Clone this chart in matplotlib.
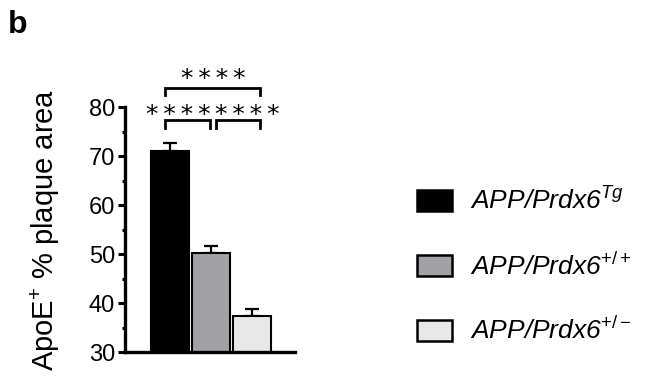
import matplotlib
matplotlib.use("Agg")
import matplotlib.pyplot as plt
from matplotlib.patches import Patch

plt.rcParams['font.family'] = ['Liberation Sans', 'DejaVu Sans']
plt.rcParams['mathtext.fontset'] = 'custom'
plt.rcParams['mathtext.rm'] = 'Liberation Sans'
plt.rcParams['mathtext.it'] = 'Liberation Sans:italic'

# data
groups = ['APP/Prdx6$^{Tg}$', 'APP/Prdx6$^{\\mathit{+/+}}$', 'APP/Prdx6$^{\\mathit{+/-}}$']
means = [71.0, 50.3, 37.4]
sems = [1.7, 1.3, 1.4]
colors = ['#000000', '#a2a2a6', '#e8e8e8']
# significance comparisons (bar i, bar j, label)
comparisons = [(0, 1, '****'), (1, 2, '****'), (0, 2, '****')]

fig = plt.figure(figsize=(6.64, 3.81), dpi=100)
ax = fig.add_axes([0.188, 0.076, 0.256, 0.643])

x = list(range(len(means)))
ax.bar(x, means, width=0.92, color=colors, edgecolor='black', linewidth=1.5,
       bottom=0, zorder=2)
ax.errorbar(x, means, yerr=[[0] * len(sems), sems], fmt='none', ecolor='black',
            elinewidth=1.6, capsize=5, capthick=1.6, zorder=1)

ax.set_ylim(30, 80)
ax.set_xlim(-1.1, 3.05)
ax.set_yticks([30, 40, 50, 60, 70, 80])
ax.set_yticks([35, 45, 55, 65, 75], minor=True)
ax.set_xticks([])
ax.tick_params(axis='y', which='major', labelsize=17, width=2.2, length=5, pad=2)
ax.tick_params(axis='y', which='minor', width=2.2, length=2.5)
for s in ['top', 'right']:
    ax.spines[s].set_visible(False)
for s in ['left', 'bottom']:
    ax.spines[s].set_linewidth(2.4)
ax.set_ylabel('ApoE$^{+}$ % plaque area', fontsize=21, labelpad=19)

# significance brackets
levels = {(0, 1): 77.3, (1, 2): 77.3, (0, 2): 83.9}
offsets = {(0, 1): (-0.12, -0.03), (1, 2): (0.12, 0.2), (0, 2): (-0.12, 0.2)}
star_pos = {(0, 1): (0.2, 77.0), (1, 2): (1.9, 77.0), (0, 2): (1.05, 84.4)}
for i, j, lab in comparisons:
    yb = levels[(i, j)]
    x0 = i + offsets[(i, j)][0]
    x1 = j + offsets[(i, j)][1]
    ax.plot([x0, x0, x1, x1], [yb - 1.5, yb, yb, yb - 1.5], color='black',
            lw=2.0, clip_on=False, solid_joinstyle='miter')
    sx, sy = star_pos[(i, j)]
    ax.text(sx, sy, '\u2009'.join(lab), ha='center', va='baseline',
            fontsize=18, family='DejaVu Sans', clip_on=False)

# legend
handles = [Patch(facecolor=c, edgecolor='black', linewidth=1.8) for c in colors]
fig.legend(handles, groups, loc='center left', bbox_to_anchor=(0.628, 0.302),
           frameon=False, prop={'size': 19, 'style': 'italic'},
           handlelength=1.33, handleheight=0.83, handletextpad=0.68,
           labelspacing=1.43, borderpad=0, borderaxespad=0)

fig.text(0.012, 0.975, 'b', fontsize=23, fontweight='bold', va='top', ha='left')

fig.savefig('out.png', dpi=100)
